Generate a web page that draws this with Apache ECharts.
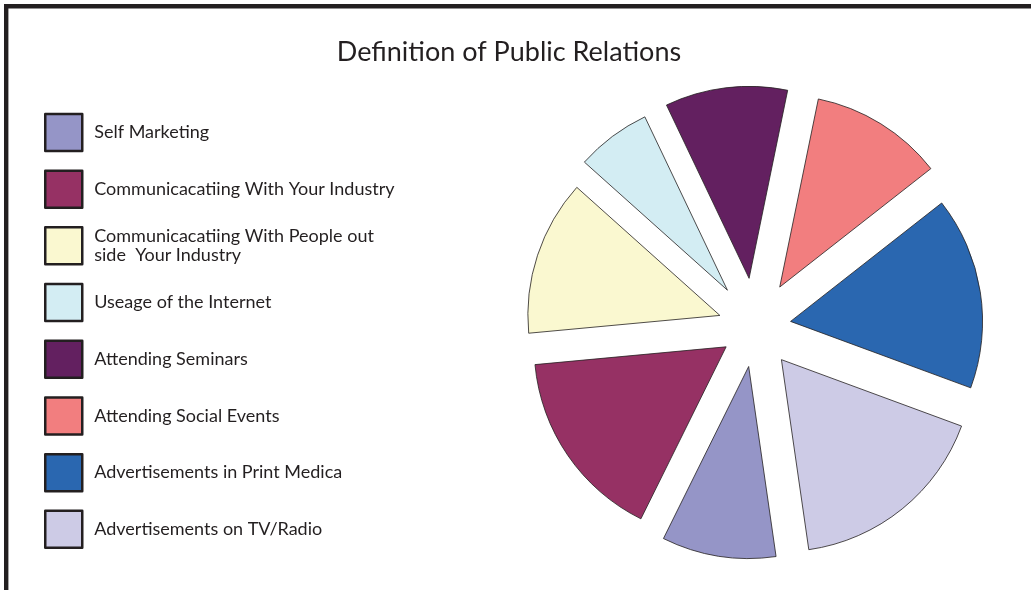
<!DOCTYPE html>
<html>
<head>
<meta charset="utf-8">
<script src="https://cdn.jsdelivr.net/npm/echarts@6/dist/echarts.min.js"></script>
<style>
html,body{margin:0;padding:0;background:#fff;}
#c{width:1031px;height:590px;}
</style>
</head>
<body>
<div id="c"></div>
<script>
// ---- data ----
const categories = [
  'Self Marketing',
  'Communicacatiing With Your Industry',
  'Communicacatiing With People out\nside  Your Industry',
  'Useage of the Internet',
  'Attending Seminars',
  'Attending Social Events',
  'Advertisements in Print Medica',
  'Advertisements on TV/Radio'
];
const values = [9.6, 16.2, 13.1, 6.3, 10.3, 11.2, 16.2, 17.1];

// ---- styling ----
const colors = ['#9595c7', '#963164', '#faf8d0', '#d3edf3', '#632060', '#f27e7f', '#2a67b0', '#cdcbe6'];
const explode = [40, 35, 37, 46, 49, 47, 36, 42];
const FONT = 'Lato';
const CENTER = [755, 327];
const RADIUS = 192;
const START = -81.8;

const series = categories.map(function (_, i) {
  return {
    type: 'pie',
    center: CENTER,
    radius: RADIUS,
    startAngle: START,
    clockwise: true,
    selectedMode: 'multiple',
    selectedOffset: explode[i],
    silent: true,
    animation: false,
    label: { show: false },
    labelLine: { show: false },
    emphasis: { disabled: true },
    select: { itemStyle: {} },
    data: categories.map(function (name, j) {
      return {
        name: name,
        value: values[j],
        selected: j === i,
        itemStyle: j === i
          ? { color: colors[j], borderColor: '#231f20', borderWidth: 0.8 }
          : { color: 'rgba(0,0,0,0)', borderWidth: 0 }
      };
    })
  };
});

const chart = echarts.init(document.getElementById('c'));
chart.setOption({
  backgroundColor: '#ffffff',
  animation: false,
  title: {
    text: 'Definition of Public Relations',
    left: 504,
    textAlign: 'center',
    top: 34,
    textStyle: { fontFamily: FONT, fontSize: 27, fontWeight: 'normal', color: '#231f20' }
  },
  legend: {
    orient: 'vertical',
    left: 44,
    top: 112.7,
    padding: 0,
    itemWidth: 37,
    itemHeight: 37,
    itemGap: 17.2,
    icon: 'rect',
    selectedMode: false,
    data: categories.map(function (name, i) {
      return { name: name, itemStyle: { color: colors[i], borderColor: '#231f20', borderWidth: 2.5 } };
    }),
    textStyle: { fontFamily: FONT, fontSize: 18, color: '#231f20', lineHeight: 19.5, padding: [0, 0, 0, 7] }
  },
  graphic: [{
    type: 'rect',
    shape: { x: 6.2, y: 6.2, width: 1100, height: 700 },
    style: { fill: 'none', stroke: '#231f20', lineWidth: 4.4 },
    silent: true
  }],
  series: series
});
</script>
</body>
</html>
